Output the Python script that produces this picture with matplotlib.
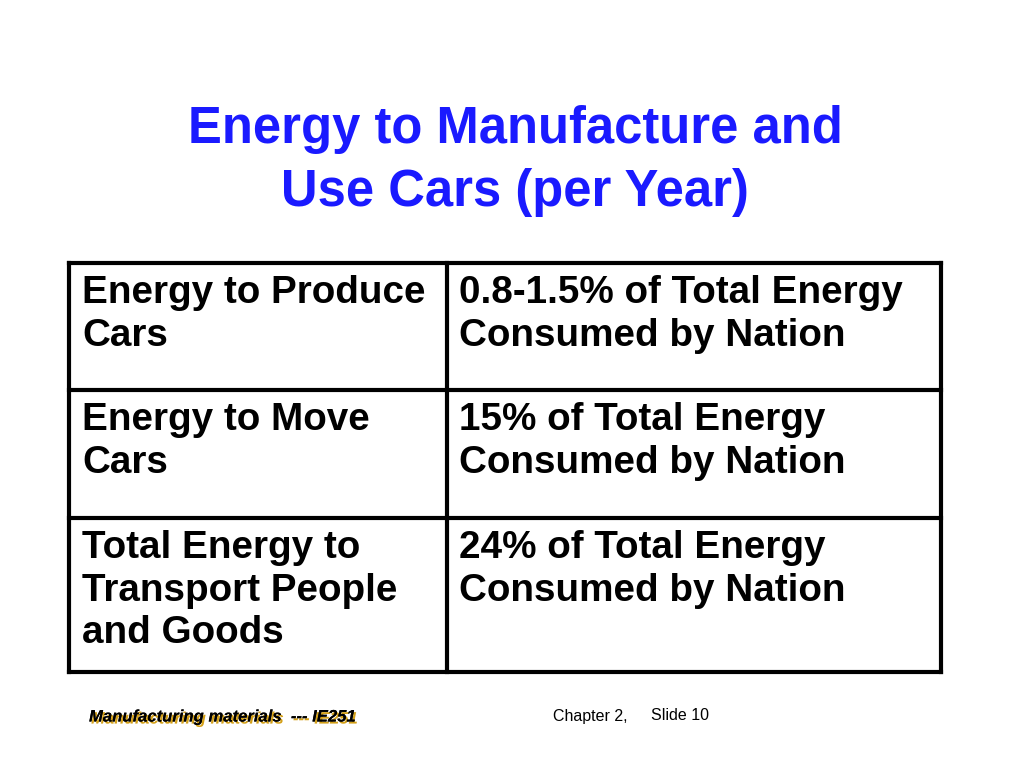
import matplotlib.pyplot as plt
import matplotlib.patheffects as pe

title = "Energy to Manufacture and\nUse Cars (per Year)"
row_labels = [
    "Energy to Produce\nCars",
    "Energy to Move\nCars",
    "Total Energy to\nTransport People\nand Goods",
]
row_values = [
    "0.8-1.5% of Total Energy\nConsumed by Nation",
    "15% of Total Energy\nConsumed by Nation",
    "24% of Total Energy\nConsumed by Nation",
]
footer_left = "Manufacturing materials  --- IE251"
footer_chapter = "Chapter 2,"
footer_slide = "Slide 10"

fig = plt.figure(figsize=(10.24, 7.68), dpi=100)
ax = fig.add_axes([0, 0, 1, 1])
ax.set_xlim(0, 1024)
ax.set_ylim(768, 0)
ax.axis("off")

font = "Liberation Sans"

ax.text(515, 161, title, ha="center", va="center", fontsize=36.5,
        fontweight="bold", color="#1a1aff", family=font, linespacing=1.38)

# table grid
left, mid, right = 69, 447, 941
row_edges = [263, 390, 518, 672]
lw = 3
for y in row_edges:
    ax.plot([left, right], [y, y], color="black", lw=lw, solid_capstyle="projecting")
for x in (left, mid, right):
    ax.plot([x, x], [row_edges[0], row_edges[-1]], color="black", lw=lw,
            solid_capstyle="projecting")

for i, (lab, val) in enumerate(zip(row_labels, row_values)):
    top = row_edges[i] + 12
    ax.text(82, top, lab, ha="left", va="top", fontsize=27.8, fontweight="bold",
            family=font, linespacing=1.24)
    ax.text(459, top, val, ha="left", va="top", fontsize=27.8, fontweight="bold",
            family=font, linespacing=1.24)

ax.text(89, 717, footer_left, ha="left", va="center", fontsize=12,
        fontweight="bold", style="italic", family=font,
        path_effects=[pe.withSimplePatchShadow(offset=(1.5, -1.5),
                                               shadow_rgbFace="#d4a017", alpha=1),
                      pe.Normal()])
ax.text(553, 716, footer_chapter, ha="left", va="center", fontsize=11.5, family=font)
ax.text(651, 716, footer_slide, ha="left", va="center", fontsize=11.5, family=font)

fig.savefig("out.png", dpi=100)
